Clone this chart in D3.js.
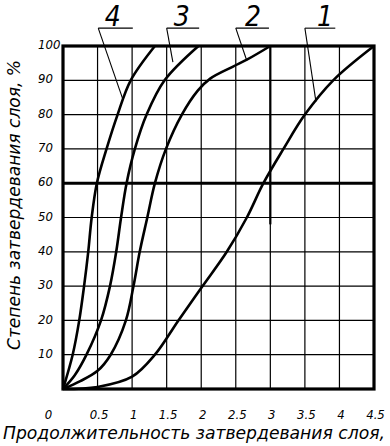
<!DOCTYPE html>
<html>
<head>
<meta charset="utf-8">
<script src="https://cdn.jsdelivr.net/npm/d3@7"></script>
<style>
  html, body { margin: 0; padding: 0; background: #fff; }
  svg text { font-family: "DejaVu Sans Condensed", "DejaVu Sans", sans-serif; font-style: italic; fill: #000; }
</style>
</head>
<body>
<svg width="390" height="446"></svg>
<script>
// tick values / labels
var xTicks = [0, 0.5, 1, 1.5, 2, 2.5, 3, 3.5, 4, 4.5];
var xTickLabels = ['0', '0.5', '1', '1.5', '2', '2.5', '3', '3.5', '4', '4.5'];
var yTicks = [10, 20, 30, 40, 50, 60, 70, 80, 90, 100];

// curves: x = time, y = % solidified
var curve1 = [[0,0],[0.5,0.6],[1.0,3.6],[1.33,10],[1.67,20],[2.02,30],[2.37,40],[2.66,50],[2.9,60],[3.19,70],[3.5,80],[3.91,90],[4.5,100]];
var curve2 = [[0,0],[0.25,2.3],[0.5,5.3],[0.69,10],[0.91,20],[1.02,30],[1.11,40],[1.22,50],[1.33,60],[1.49,70],[1.72,80],[1.95,87],[2.13,90.5],[2.46,94],[2.66,96],[3.0,100]];
var curve3 = [[0,0],[0.17,4],[0.34,10],[0.55,20],[0.68,30],[0.77,40],[0.84,50],[0.92,60],[1.04,70],[1.21,80],[1.47,90],[1.96,100]];
var curve4 = [[0,0],[0.14,10],[0.235,20],[0.305,30],[0.365,40],[0.415,50],[0.49,60],[0.63,70],[0.79,80],[0.98,90],[1.33,100]];
var curves = [curve1, curve2, curve3, curve4];

// callouts: label, underline start/end x, underline level, label x, point on curve
var calloutNames = ['1', '2', '3', '4'];
var calloutLineFrom = [3.5, 2.5, 1.5, 0.51];
var calloutLineTo = [3.94, 2.98, 1.97, 1.01];
var calloutLabelX = [3.79, 2.75, 1.72, 0.72];
var calloutTarget = [[3.66, 83.8], [2.66, 95.7], [1.59, 95.3], [0.86, 84.8]];
var calloutLevel = 105.2;

var svg = d3.select("svg");

var x = d3.scaleLinear().domain([0, 4.5]).range([63, 374]);
var y = d3.scaleLinear().domain([0, 100]).range([389, 46]);

// grid
var grid = svg.append("g");
grid.selectAll("line.v").data(xTicks.slice(1, -1)).enter().append("line")
  .attr("x1", function(d){ return x(d); }).attr("x2", function(d){ return x(d); })
  .attr("y1", y(0)).attr("y2", y(100))
  .attr("stroke", "#000").attr("stroke-width", 1.2);
grid.selectAll("line.h").data(yTicks.slice(0, -1)).enter().append("line")
  .attr("x1", x(0)).attr("x2", x(4.5))
  .attr("y1", function(d){ return y(d); }).attr("y2", function(d){ return y(d); })
  .attr("stroke", "#000").attr("stroke-width", function(d){ return d == 60 ? 3 : 1.2; });
// darker piece of the x=3 grid line (as in the print)
grid.append("line")
  .attr("x1", x(3)).attr("x2", x(3)).attr("y1", y(100)).attr("y2", y(48))
  .attr("stroke", "#000").attr("stroke-width", 2.2);

// frame
svg.append("rect")
  .attr("x", x(0)).attr("y", y(100))
  .attr("width", x(4.5) - x(0)).attr("height", y(0) - y(100))
  .attr("fill", "none").attr("stroke", "#000").attr("stroke-width", 3.2);

// curves
var line = d3.line()
  .x(function(d){ return x(d[0]); })
  .y(function(d){ return y(d[1]); })
  .curve(d3.curveCatmullRom.alpha(0.5));

svg.selectAll("path.curve").data(curves).enter().append("path")
  .attr("class", "curve")
  .attr("d", line)
  .attr("fill", "none").attr("stroke", "#000").attr("stroke-width", 2.6)
  .attr("stroke-linejoin", "round");

// callouts
calloutNames.forEach(function(name, i){
  var g = svg.append("g");
  g.append("line")
    .attr("x1", x(calloutLineFrom[i])).attr("x2", x(calloutLineTo[i]))
    .attr("y1", y(calloutLevel)).attr("y2", y(calloutLevel))
    .attr("stroke", "#000").attr("stroke-width", 1.1);
  g.append("line")
    .attr("x1", x(calloutLineFrom[i])).attr("y1", y(calloutLevel))
    .attr("x2", x(calloutTarget[i][0])).attr("y2", y(calloutTarget[i][1]))
    .attr("stroke", "#000").attr("stroke-width", 1.1);
  g.append("text")
    .attr("x", x(calloutLabelX[i])).attr("y", y(calloutLevel) - 2)
    .attr("text-anchor", "middle")
    .attr("font-size", 28).attr("font-weight", 200)
    .text(name);
});

// x axis labels
var xAxis = d3.axisBottom(x).tickValues(xTicks).tickSize(0)
  .tickFormat(function(d, i){ return xTickLabels[i]; });
var gx = svg.append("g").attr("transform", "translate(0," + y(0) + ")").call(xAxis);
gx.select(".domain").remove();
gx.selectAll("text")
  .attr("font-size", 13).attr("font-family", null)
  .attr("y", 21)
  .attr("dx", function(d){ return d == 0 ? -15 : 1; });

// y axis labels
var yAxis = d3.axisLeft(y).tickValues(yTicks).tickSize(0);
var gy = svg.append("g").attr("transform", "translate(38,0)").call(yAxis);
gy.select(".domain").remove();
gy.selectAll("text")
  .attr("font-size", 13).attr("font-family", null)
  .attr("text-anchor", "start").attr("x", 0).attr("dy", "0.2em");

// titles
svg.append("text")
  .attr("x", 3).attr("y", 439)
  .attr("font-size", 18)
  .attr("textLength", 382).attr("lengthAdjust", "spacingAndGlyphs")
  .text("Продолжительность затвердевания слоя,");

svg.append("text")
  .attr("transform", "translate(20," + 350 + ") rotate(-90)")
  .attr("font-size", 17)
  .attr("textLength", 290).attr("lengthAdjust", "spacingAndGlyphs")
  .text("Степень затвердевания слоя, %");
</script>
</body>
</html>
